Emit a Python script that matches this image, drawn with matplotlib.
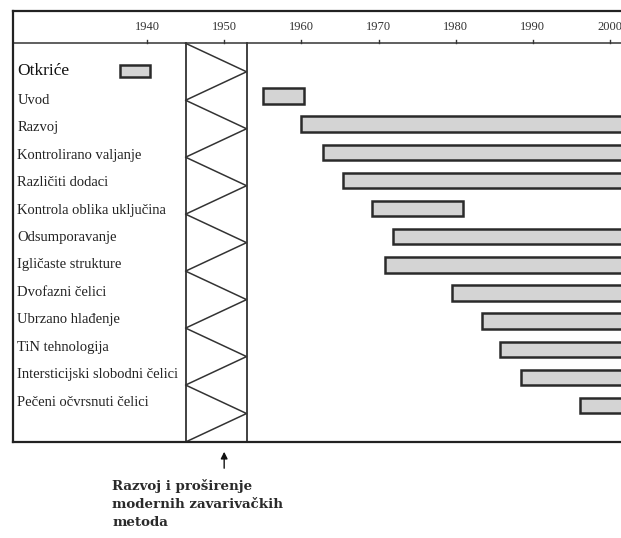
import numpy as np
import matplotlib
matplotlib.use("Agg")
import matplotlib.pyplot as plt
from matplotlib.patches import Rectangle

plt.rcParams['font.family'] = ['Liberation Serif', 'DejaVu Serif']

# ---- data ----
labels = ["Uvod", "Razvoj", "Kontrolirano valjanje", "Različiti dodaci",
          "Kontrola oblika uključina", "Odsumporavanje", "Igličaste strukture",
          "Dvofazni čelici", "Ubrzano hlađenje", "TiN tehnologija",
          "Intersticijski slobodni čelici", "Pečeni očvrsnuti čelici"]
start_year = [1955, 1960, 1962.8, 1965.4, 1969.2, 1971.9, 1970.8,
              1979.5, 1983.4, 1985.7, 1988.5, 1996.1]
end_year = [1960.3, 2010, 2010, 2010, 1980.9, 2010, 2010,
            2010, 2010, 2010, 2010, 2010]
tick_years = [1940, 1950, 1960, 1970, 1980, 1990, 2000]
legend_label = "Otkriće"
break_span = (1945.0, 1952.9)
note_year = 1950
note_text = "Razvoj i proširenje\nmodernih zavarivačkih\nmetoda"

W, H = 621, 538
fig = plt.figure(figsize=(W / 100, H / 100), dpi=100)

# axes geometry in pixels
left_px, right_px, top_px, bot_px = 12.7, 650, 11, 442
ax = fig.add_axes([left_px / W, 1 - bot_px / H, (right_px - left_px) / W, (bot_px - top_px) / H])
px_per_year = 7.717
x0 = 1940 - (147 - left_px) / px_per_year
x1 = 1940 + (right_px - 147) / px_per_year
row_px = 28.15
y_top = (top_px - 96) / row_px
y_bot = (bot_px - 96) / row_px
y_head = (43.3 - 96) / row_px
ax.set_xlim(x0, x1)
ax.set_ylim(y_bot, y_top)
ax.set_xticks([])
ax.set_yticks([])
for s in ax.spines.values():
    s.set_linewidth(1.6)
    s.set_color("#222")

# header separator and year ticks
ax.axhline(y_head, color="#444", lw=1.2)
for yr in tick_years:
    ax.plot([yr, yr], [y_head, y_head - 0.1], color="#333", lw=1.0)
    ax.text(yr, y_head - 0.58, str(yr), ha="center", va="center", fontsize=9, color="#333")

# bars
rows = np.arange(len(labels))
ax.barh(rows, np.array(end_year) - np.array(start_year), left=start_year, height=0.55,
        color="#d4d4d4", edgecolor="#2a2a2a", linewidth=1.8, zorder=3)

# row labels
for i, lab in enumerate(labels):
    ax.text(x0 + 0.6, i * 0.975 + 0.15, lab, ha="left", va="center", fontsize=10.5, color="#222")

# legend
ax.text(x0 + 0.55, -0.89, legend_label, ha="left", va="center", fontsize=12.5, color="#111")
ax.add_patch(Rectangle((1936.5, -1.1), 3.9, 0.43, facecolor="#d4d4d4", edgecolor="#2a2a2a",
                       linewidth=1.8, zorder=3))

# break column with zigzag
bl, br = break_span
ax.plot([bl, bl], [y_head, y_bot], color="#333", lw=1.3)
ax.plot([br, br], [y_head, y_bot], color="#333", lw=1.3)
zy = np.linspace(y_head, y_bot, 15)
zx = np.where(np.arange(15) % 2 == 0, bl, br)
ax.plot(zx, zy, color="#333", lw=1.1)

# arrow and note
ax.annotate("", xy=(note_year, (449 - 96) / row_px), xytext=(note_year, (471 - 96) / row_px),
            xycoords="data", annotation_clip=False,
            arrowprops=dict(arrowstyle="-|>", color="#111", lw=1.0, mutation_scale=10))
fig.text(112 / W, 1 - 479 / H, note_text, ha="left", va="top", fontsize=9.6,
         family="DejaVu Serif", fontweight="bold", color="#2a2a2a", linespacing=1.5)

fig.savefig("out.png", dpi=100)
